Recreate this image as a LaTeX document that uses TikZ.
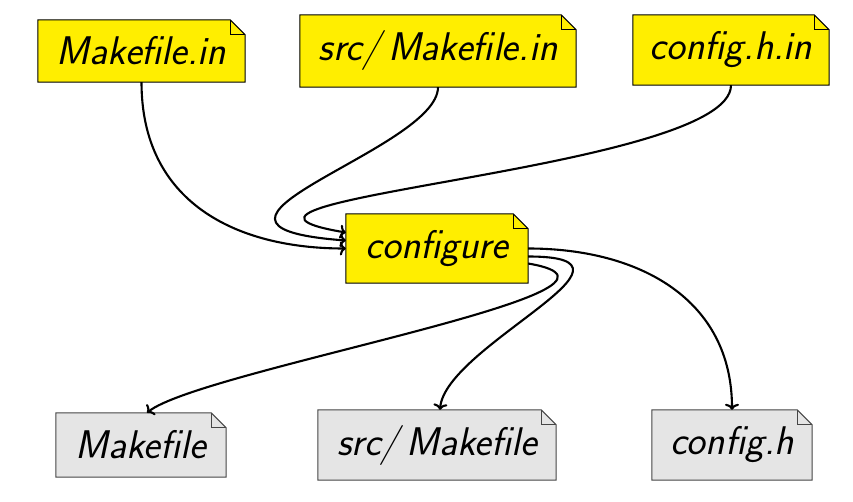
\documentclass[tikz,border=0pt]{standalone}
\usepackage{fontspec}
\usetikzlibrary{backgrounds,arrows.meta}
\definecolor{docyellow}{RGB}{255,238,0}
\definecolor{docgray}{RGB}{229,229,229}
\definecolor{docborder}{RGB}{70,70,70}
\tikzset{
  docnode/.style={font=\sffamily\itshape\fontsize{40}{44}\selectfont, inner sep=0pt, align=center},
  yeldoc/.style={fill=docyellow, draw=black},
  graydoc/.style={fill=docgray, draw=docborder},
  flow/.style={-{To[length=6pt,width=14pt]}, line width=2.1pt, black},
}
\newcommand\docshape[2]{%
  \filldraw[#2, line width=1pt, line join=miter] (#1.north west) -- ([xshift=-15pt]#1.north east) -- ([yshift=-15pt]#1.north east) -- (#1.south east) -- (#1.south west) -- cycle;
  \draw[#2, fill=none, line width=1pt] ([xshift=-15pt]#1.north east) -- ([xshift=-15pt,yshift=-15pt]#1.north east) -- ([yshift=-15pt]#1.north east);
}
\begin{document}
\begin{tikzpicture}[x=1pt,y=1pt]
\useasboundingbox (0,0) rectangle (853,501);
% sources
\node[docnode, minimum width=207pt, minimum height=62pt] (mi) at (141.5,450) {Makefile.in};
\node[docnode, minimum width=276pt, minimum height=72pt] (smi) at (438,450) {src/\,Makefile.in};
\node[docnode, minimum width=196pt, minimum height=70pt] (chi) at (731,451) {config.h.in};
% configure
\node[docnode, minimum width=182pt, minimum height=69pt] (cfg) at (437,252.5) {configure};
% outputs
\node[docnode, minimum width=170pt, minimum height=64pt] (mf) at (141,56) {Makefile};
\node[docnode, minimum width=238pt, minimum height=70pt] (smf) at (437,56) {src/\,Makefile};
\node[docnode, minimum width=160pt, minimum height=70pt] (ch) at (732,56) {config.h};
\begin{scope}[on background layer]
  \docshape{mi}{yeldoc}
  \docshape{smi}{yeldoc}
  \docshape{chi}{yeldoc}
  \docshape{cfg}{yeldoc}
  \docshape{mf}{graydoc}
  \docshape{smf}{graydoc}
  \docshape{ch}{graydoc}
\end{scope}
% inputs to configure
\draw[flow] (mi.south) .. controls +(0,-120) and +(-110,0) .. (cfg.west);
\draw[flow] (smi.south) .. controls +(0,-63) and +(-200,15) .. ([yshift=8]cfg.west);
\draw[flow] (chi.south) .. controls +(0,-85) and +(-196,33) .. ([yshift=16]cfg.west);
% outputs of configure
\draw[flow] (cfg.east) .. controls +(112,0) and +(0,110) .. (ch.north);
\draw[flow] ([yshift=-8]cfg.east) .. controls +(137,0) and +(5,64) .. ([xshift=3]smf.north);
\draw[flow] ([yshift=-15]cfg.east) .. controls +(152,-26) and +(53,43) .. ([xshift=6]mf.north);
\end{tikzpicture}
\end{document}
